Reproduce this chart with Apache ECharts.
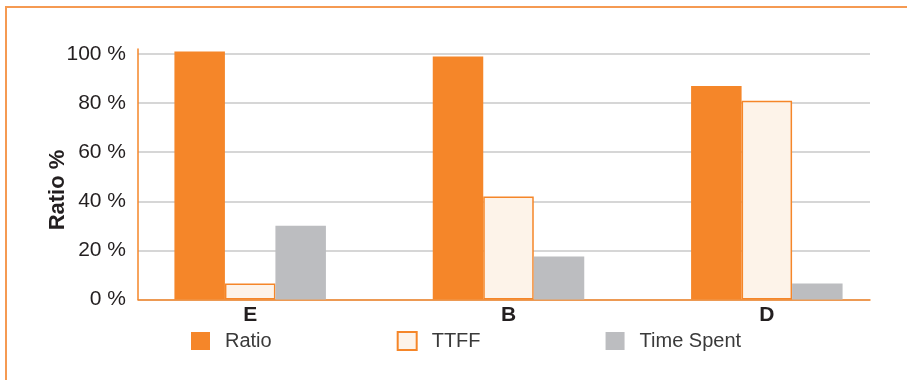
<!DOCTYPE html>
<html>
<head>
<meta charset="utf-8">
<script src="https://cdn.jsdelivr.net/npm/echarts@6/dist/echarts.min.js"></script>
<style>
  html, body { margin: 0; padding: 0; background: #fff; }
  #wrap { position: relative; width: 907px; height: 380px; overflow: hidden; }
  #frame { position: absolute; left: 5px; top: 6px; width: 1000px; height: 500px;
           border-left: 2px solid #f59a52; border-top: 2px solid #f59a52; box-sizing: border-box; }
  #chart { position: absolute; left: 0; top: 0; width: 907px; height: 380px; }
</style>
</head>
<body>
<div id="wrap">
  <div id="frame"></div>
  <div id="chart"></div>
</div>
<script>
// Categories and series values (percent)
const categories = ['E', 'B', 'D'];
const ratioValues = [101, 99, 87];
const ttffValues = [6.5, 42, 81];
const timeSpentValues = [30, 17.5, 6.5];
const yTicks = [0, 20, 40, 60, 80, 100];

const ORANGE = '#f58629';
const CREAM = '#fdf3e9';
const GREY = '#bcbdc0';
const TEXT = '#231f20';
const FONT = '"Liberation Sans", Arial, sans-serif';

const chart = echarts.init(document.getElementById('chart'), null, { renderer: 'canvas' });

chart.setOption({
  animation: false,
  backgroundColor: 'transparent',
  textStyle: { fontFamily: FONT },
  grid: [
    // gridlines, tick labels and the orange baseline
    { left: 138, right: 37, top: 54, bottom: 80.5 },
    // bars and category labels
    { left: 121, right: 11, top: 54, bottom: 80.5 },
    // the orange vertical axis line, slightly taller than the plot
    { left: 138, right: 37, top: 49, bottom: 80.5 }
  ],
  xAxis: [
    { type: 'value', gridIndex: 0, min: 0, max: 1,
      axisLine: { show: true, onZero: false, lineStyle: { color: ORANGE, width: 1.5 } },
      axisTick: { show: false }, axisLabel: { show: false }, splitLine: { show: false } },
    { type: 'category', gridIndex: 1, data: categories,
      axisLine: { show: false }, axisTick: { show: false }, splitLine: { show: false },
      axisLabel: { color: TEXT, fontSize: 21, fontWeight: 'bold', fontFamily: FONT, margin: 5 } },
    { type: 'value', gridIndex: 2, show: false, min: 0, max: 1 }
  ],
  yAxis: [
    { type: 'value', gridIndex: 0, min: 0, max: 100, interval: 20,
      axisLine: { show: false }, axisTick: { show: false },
      splitLine: { show: true, lineStyle: { color: '#c8c8c8', width: 1.5 } },
      axisLabel: { color: TEXT, fontSize: 21, fontFamily: FONT, margin: 12,
        formatter: v => (yTicks.indexOf(v) >= 0 ? v + ' %' : '') } },
    { type: 'value', gridIndex: 1, min: 0, max: 100, show: false },
    { type: 'value', gridIndex: 2, min: 0, max: 1,
      axisLine: { show: true, onZero: false, lineStyle: { color: ORANGE, width: 1.5 } },
      axisTick: { show: false }, axisLabel: { show: false }, splitLine: { show: false } }
  ],
  legend: {
    left: 191, top: 331, padding: 0,
    itemWidth: 19, itemHeight: 18, itemGap: 125,
    icon: 'rect',
    textStyle: { color: '#3a3a3a', fontSize: 20, fontFamily: FONT, padding: [0, 0, 0, 10] },
    data: ['Ratio', 'TTFF', 'Time Spent']
  },
  graphic: [{
    type: 'text', x: 58, y: 190, rotation: Math.PI / 2,
    style: { text: 'Ratio %', fill: TEXT, font: 'bold 22px ' + FONT, align: 'center', verticalAlign: 'middle' }
  }],
  series: [
    { name: 'Ratio', type: 'bar', xAxisIndex: 1, yAxisIndex: 1, data: ratioValues,
      barWidth: 50.5, barGap: '0%', clip: false, z: 3,
      itemStyle: { color: ORANGE } },
    { name: 'TTFF', type: 'bar', xAxisIndex: 1, yAxisIndex: 1, data: ttffValues,
      barWidth: 50.5, barGap: '0%', clip: false, z: 3,
      itemStyle: { color: CREAM, borderColor: ORANGE, borderWidth: 1.5 } },
    { name: 'Time Spent', type: 'bar', xAxisIndex: 1, yAxisIndex: 1, data: timeSpentValues,
      barWidth: 50.5, barGap: '0%', clip: false, z: 3,
      itemStyle: { color: GREY } }
  ]
});
</script>
</body>
</html>
